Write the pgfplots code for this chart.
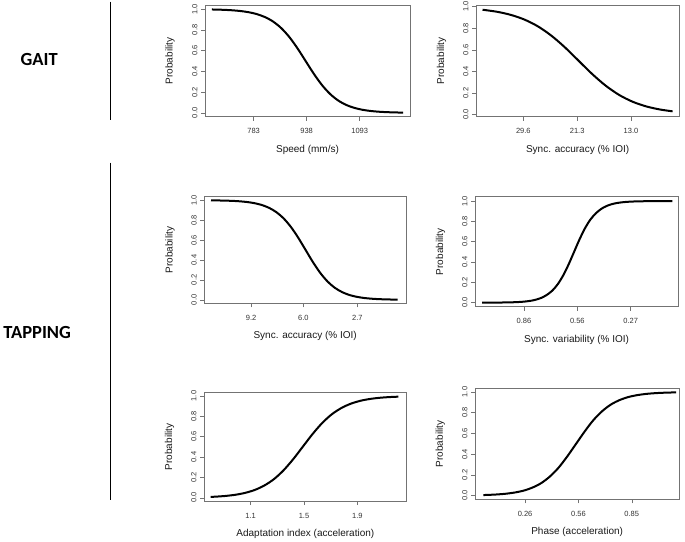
\documentclass[border=0pt]{standalone}
\usepackage{fontspec}
\setmainfont{Liberation Sans}
\newfontfamily\carlito{Carlito}
\usepackage{pgfplots}
\pgfplotsset{compat=1.18}

\pgfplotsset{
  rplot/.style={
    scale only axis,
    anchor=north west,
    axis line style={black!55, line width=0.5pt},
    tick style={black!55, line width=0.5pt},
    tick align=outside,
    major tick length=4pt,
    xtick pos=bottom,
    ytick pos=left,
    ytick={0,0.2,0.4,0.6,0.8,1},
    yticklabels={0.0,0.2,0.4,0.6,0.8,1.0},
    /pgf/number format/assume math mode=true,
    tick label style={font=\fontsize{7.5}{8.5}\selectfont, text=black!80},
    yticklabel style={rotate=90, anchor=south},
    xticklabel style={yshift=-4.5pt},
    label style={font=\fontsize{10}{12}\selectfont, text=black!90},
    ylabel=Probability,
    xlabel style={at={(axis description cs:0.5,0)}, anchor=center, yshift=-33pt},
    ylabel style={at={(axis description cs:-0.17,0.5)}, anchor=center},
  },
  curve/.style={black, line width=2pt, smooth},
}

\begin{document}
\begin{tikzpicture}
\useasboundingbox (0,0) rectangle (685pt,-541pt);

% left-hand group labels and bars
\draw[line width=1.3pt] (110.7pt,-1.7pt) -- (110.7pt,-120pt);
\draw[line width=1.3pt] (110.7pt,-162.7pt) -- (110.7pt,-500pt);
\node[anchor=base, inner sep=0pt, font=\carlito\bfseries\fontsize{18.5}{20}\selectfont] at (39.2pt,-65pt) {GAIT};
\node[anchor=base, inner sep=0pt, font=\carlito\bfseries\fontsize{18.5}{20}\selectfont] at (37.2pt,-338.3pt) {TAPPING};

% GAIT: speed
\begin{axis}[rplot,
    at={(205pt,-5pt)}, width=205pt, height=111.7pt,
    xmin=641, xmax=1240, ymin=-0.037, ymax=1.04,
    xtick={783,938,1093}, xticklabels={783,938,1093},
    xlabel={Speed (mm/s)}]
\addplot[curve] coordinates {
(661.2,0.9968) (673.1,0.9959) (696.9,0.9933) (720.7,0.9890) (744.5,0.9820)
(768.3,0.9707) (792.1,0.9526) (815.9,0.9241) (839.8,0.8808) (863.6,0.8176)
(887.4,0.7311) (911.2,0.6225) (935.0,0.5000) (958.8,0.3775) (982.6,0.2689)
(1006.4,0.1824) (1030.2,0.1192) (1054.0,0.0759) (1077.9,0.0474) (1101.7,0.0293)
(1125.5,0.0180) (1149.3,0.0110) (1173.1,0.0067) (1196.9,0.0041) (1220.2,0.0025)
};
\end{axis}

% GAIT: sync. accuracy
\begin{axis}[rplot,
    at={(476pt,-5pt)}, width=203.3pt, height=111.7pt,
    x dir=reverse,
    xmin=5.56, xmax=36.9, ymin=-0.02, ymax=1.016,
    xtick={29.6,21.3,13.0}, xticklabels={29.6,21.3,13.0},
    xlabel={Sync. accuracy (\% IOI)}]
\addplot[curve] coordinates {
(35.89,0.9721) (33.60,0.9526) (31.52,0.9241) (29.43,0.8808) (27.35,0.8176)
(25.27,0.7311) (23.18,0.6225) (21.10,0.5000) (19.02,0.3775) (16.93,0.2689)
(14.85,0.1824) (12.77,0.1192) (10.68,0.0759) (8.60,0.0474) (6.60,0.0299)
};
\end{axis}

% TAPPING: sync. accuracy
\begin{axis}[rplot,
    at={(204.3pt,-196.7pt)}, width=201.7pt, height=106.6pt,
    x dir=reverse,
    xmin=-0.28, xmax=12.06, ymin=-0.035, ymax=1.035,
    xtick={9.2,6.0,2.7}, xticklabels={9.2,6.0,2.7},
    xlabel={Sync. accuracy (\% IOI)}]
\addplot[curve] coordinates {
(11.65,0.9984) (11.27,0.9975) (10.82,0.9959) (10.36,0.9933) (9.91,0.9890)
(9.46,0.9820) (9.01,0.9707) (8.56,0.9526) (8.11,0.9241) (7.66,0.8808)
(7.21,0.8176) (6.76,0.7311) (6.31,0.6225) (5.86,0.5000) (5.41,0.3775)
(4.96,0.2689) (4.51,0.1824) (4.06,0.1192) (3.61,0.0759) (3.16,0.0474)
(2.71,0.0293) (2.26,0.0180) (1.81,0.0110) (1.36,0.0067) (0.91,0.0041)
(0.45,0.0025) (0.23,0.0019)
};
\end{axis}

% TAPPING: sync. variability
\begin{axis}[rplot,
    at={(475pt,-196.7pt)}, width=203.3pt, height=110pt,
    x dir=reverse,
    xmin=0.0066, xmax=1.131, ymin=-0.04, ymax=1.043,
    xtick={0.86,0.565,0.27}, xticklabels={0.86,0.56,0.27},
    xlabel={Sync. variability (\% IOI)}]
\addplot[curve] coordinates {
(1.091,0.0002) (1.065,0.0003) (1.005,0.0009) (0.975,0.0015) (0.944,0.0025)
(0.914,0.0041) (0.884,0.0067) (0.854,0.0110) (0.824,0.0180) (0.794,0.0293)
(0.764,0.0474) (0.734,0.0759) (0.703,0.1192) (0.673,0.1824) (0.643,0.2689)
(0.613,0.3775) (0.583,0.5000) (0.553,0.6225) (0.523,0.7311) (0.493,0.8176)
(0.462,0.8808) (0.432,0.9241) (0.402,0.9526) (0.372,0.9707) (0.342,0.9820)
(0.312,0.9890) (0.282,0.9933) (0.252,0.9959) (0.222,0.9975) (0.191,0.9985)
(0.161,0.9991) (0.101,0.9997) (0.040,0.9999)
};
\end{axis}

% TAPPING: adaptation index
\begin{axis}[rplot,
    at={(204pt,-392.7pt)}, width=202.7pt, height=108.3pt,
    xmin=0.750, xmax=2.27, ymin=-0.032, ymax=1.032,
    xtick={1.1,1.5,1.9}, xticklabels={1.1,1.5,1.9},
    xlabel={Adaptation index (acceleration)}]
\addplot[curve] coordinates {
(0.800,0.0083) (0.841,0.0110) (0.913,0.0180) (0.985,0.0293) (1.057,0.0474)
(1.129,0.0759) (1.201,0.1192) (1.274,0.1824) (1.346,0.2689) (1.418,0.3775)
(1.490,0.5000) (1.562,0.6225) (1.634,0.7311) (1.706,0.8176) (1.779,0.8808)
(1.851,0.9241) (1.923,0.9526) (1.995,0.9707) (2.067,0.9820) (2.139,0.9890)
(2.207,0.9931)
};
\end{axis}

% TAPPING: phase
\begin{axis}[rplot,
    at={(475pt,-388.3pt)}, width=204.3pt, height=111pt,
    xmin=-0.017, xmax=1.113, ymin=-0.036, ymax=1.036,
    xtick={0.26,0.555,0.85}, xticklabels={0.26,0.56,0.85},
    xlabel={Phase (acceleration)}]
\addplot[curve] coordinates {
(0.029,0.0051) (0.057,0.0067) (0.105,0.0110) (0.154,0.0180) (0.202,0.0293)
(0.251,0.0474) (0.299,0.0759) (0.348,0.1192) (0.396,0.1824) (0.445,0.2689)
(0.493,0.3775) (0.542,0.5000) (0.591,0.6225) (0.639,0.7311) (0.688,0.8176)
(0.736,0.8808) (0.785,0.9241) (0.833,0.9526) (0.882,0.9707) (0.930,0.9820)
(0.979,0.9890) (1.027,0.9933) (1.076,0.9959) (1.095,0.9967)
};
\end{axis}
\end{tikzpicture}
\end{document}
